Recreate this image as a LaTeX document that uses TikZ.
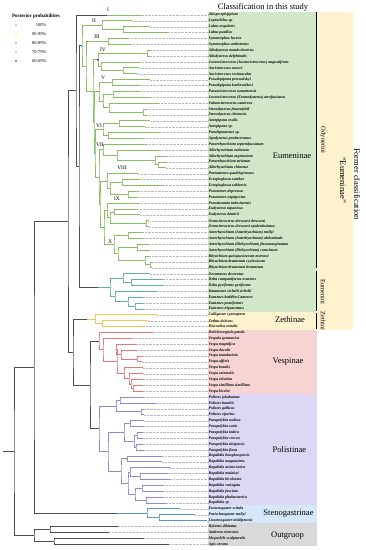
\documentclass[tikz,border=0pt]{standalone}
\usepackage{fontspec}
\setmainfont{Liberation Serif}
\usetikzlibrary{calc}
\definecolor{odyncol}{RGB}{134,190,96}
\definecolor{eumcol}{RGB}{92,176,166}
\definecolor{zethcol}{RGB}{247,200,80}
\definecolor{vespcol}{RGB}{236,118,118}
\definecolor{polcol}{RGB}{150,136,206}
\definecolor{stencol}{RGB}{88,150,212}
\definecolor{stemcol}{RGB}{78,78,78}
\definecolor{odynbg}{RGB}{210,230,200}
\definecolor{formbg}{RGB}{255,242,206}
\definecolor{vespbg}{RGB}{246,212,212}
\definecolor{polbg}{RGB}{221,215,243}
\definecolor{stenbg}{RGB}{214,231,247}
\definecolor{outbg}{RGB}{217,217,217}
\definecolor{ppgray}{RGB}{170,170,170}
\definecolor{ppyellow}{RGB}{255,235,0}
\definecolor{ppgreen}{RGB}{40,220,40}
\definecolor{ppcyan}{RGB}{40,220,220}
\definecolor{ppblue}{RGB}{25,25,205}
\tikzset{
  tree/.style={x=1pt,y=-1pt},
  branch/.style={line width=0.9pt},
  ody/.style={branch,draw=odyncol},
  eum/.style={branch,draw=eumcol},
  zeth/.style={branch,draw=zethcol},
  vesp/.style={branch,draw=vespcol},
  pol/.style={branch,draw=polcol},
  sten/.style={branch,draw=stencol},
  stemline/.style={branch,draw=stemcol},
  taxon/.style={font=\fontsize{3.9}{4}\selectfont\bfseries\itshape,anchor=west,inner sep=0pt},
  leader/.style={draw=gray!55,line width=0.35pt,dash pattern=on 0.7pt off 0.7pt},
  grp/.style={font=\fontsize{8.5}{9}\selectfont},
  tribe/.style={font=\fontsize{6.5}{7}\selectfont,rotate=-90,inner sep=0pt},
  clabel/.style={font=\fontsize{5.5}{6}\selectfont,inner sep=0pt},
  pp/.style={circle,inner sep=0pt,minimum size=1.9pt},
  bar/.style={line width=1.5pt,black},
}
% internal node: name, x, upper child, lower child, style
\newcommand\clade[5]{%
  \path let \p1=(#3), \p2=(#4) in coordinate (#1) at ({#2*1pt},{(\y1+\y2)/2});
  \draw[#5] (#3) -| (#1) |- (#4);
  \fill[gray!60] (#1) circle (0.8pt);
}
\begin{document}
\begin{tikzpicture}[tree]
\useasboundingbox (0,0) rectangle (366,550);
% panels
\fill[odynbg] (208,12) rectangle (316,312);
\fill[formbg] (317,12) rectangle (353,330);
\fill[formbg] (208,312) rectangle (317,330);
\fill[vespbg] (208,330) rectangle (317,394);
\fill[polbg] (208,394) rectangle (317,505);
\fill[stenbg] (208,505) rectangle (317,523);
\fill[outbg] (208,523) rectangle (317,546);
\draw[bar] (316.5,12) -- (316.5,268);
\draw[bar] (316.5,271) -- (316.5,311);
\draw[bar] (316.5,313) -- (316.5,329);

\node[grp] (title) at (263,7) {Classification in this study};
\node[tribe] (odynerini) at (323,140) {Odynerini};
\node[tribe] (eumenini) at (323,292) {Eumenini};
\node[tribe] (zethini) at (323,321) {Zethini};
\node[grp,rotate=-90] (former) at (357,184) {Former classification};
\node[grp,rotate=-90] (formereum) at (343,180) {``Eumeninae''};
\node[grp] (eumeninae) at (292,156) {Eumeninae};
\node[grp] (zethinae) at (290,320) {Zethinae};
\node[grp] (vespinae) at (288,362) {Vespinae};
\node[grp] (polistinae) at (289.5,450) {Polistinae};
\node[grp] (stenogastrinae) at (288.5,514) {Stenogastrinae};
\node[grp] (outgroup) at (287.5,536) {Outgruop};

% legend
\node[font=\fontsize{5}{6}\selectfont\bfseries] (pptitle) at (36,16.5) {Posterior probabilities};
\foreach \k/\c/\t in {0/ppgray/100\%,1/ppyellow/90-99\%,2/ppgreen/80-89\%,3/ppcyan/70-79\%,4/ppblue/60-69\%} {
  \node[pp,fill=\c] (ppdot\k) at (16,{25+\k*9}) {};
  \node[font=\fontsize{4.5}{5}\selectfont,anchor=east] (pptext\k) at (50,{25+\k*9}) {\t};
}

% taxa
\foreach \i/\xe/\name in {
  1/142/{Abispa ephippium},2/132/{Leptochilus sp.},3/150/{Labus angularis},4/168/{Labus pusillus},
  5/128/{Symmorphus lucens},6/130/{Symmorphus ambotretus},7/150/{Allodynerus mandschuricus},
  8/150/{Allodynerus delphinalis},9/139/{Jucancistrocerus (Jucancistrocerus) angustifrons},
  10/139/{Ancistrocerus nosoci},11/137/{Ancistrocerus rosimacular},12/150/{Pseudepipona przewalskyi},
  13/140/{Pseudepipona kozhevnikovi},14/140/{Parancistrocerus sumatrensis},
  15/150/{Jucancistrocerus (Eremodynerus) atrofasciatus},16/158/{Subancistrocerus camicrus},
  17/146/{Stenodynerus frauenfeldi},18/146/{Stenodynerus chinensis},19/150/{Antepipona ovalis},
  20/145/{Antepipona sp.},21/160/{Paraleptomenes sp.},22/143/{Apodynerus prodaveranus},
  23/146/{Pararrhynchium septemfasciatum},24/159/{Allorhynchium radiatum},
  25/166/{Allorhynchium argentatum},26/166/{Pararrhynchium striatum},27/166/{Allorhynchium chinense},
  28/138/{Pareumenes quadrispinosus},29/140/{Ectopioglossa sumbae},30/163/{Ectopioglossa sublaevis},
  31/138/{Pseumenes depressus},32/137/{Pseumenes nigripectus},33/138/{Pseudozumia indosinensis},
  34/137/{Eudynerus nipanicus},35/140/{Eudynerus danticii},36/149/{Orancistrocerus drewseni drewseni},
  37/149/{Orancistrocerus drewseni opulentissimus},38/142/{Anterhynchium (Anterhynchium) mellyi},
  39/143/{Anterhynchium (Anterhynchium) abdominale},40/149/{Anterhynchium (Dirhynchium) flavomarginatum},
  41/149/{Anterhynchium (Dirhynchium) coracinum},42/149/{Rhynchium quinquecinctum mororai},
  43/152/{Rhynchium brunneum ceylonicum},44/152/{Rhynchium brunneum brunneum},
  45/150/{Oreumenes decoratus},46/163/{Delta campaniforme esuriens},47/163/{Delta pyriforme pyriforme},
  48/157/{Katamenes sichelii sichelii},49/143/{Eumenes buddha Cameron},50/143/{Eumenes pomiformis},
  51/143/{Eumenes tripunctatus},52/157/{Calligaster cyanoptera},53/148/{Zethus dolosus},
  54/143/{Discoelius zonalis},55/153/{Dolichovespula panda},56/132/{Vespula germanica},
  57/136/{Vespa magnifica},58/137/{Vespa ducalis},59/142/{Vespa mandarinia},60/142/{Vespa affinis},
  61/143/{Vespa basalis},62/143/{Vespa orientalis},63/143/{Vespa velutina},
  64/143/{Vespa simillima simillima},65/143/{Vespa bicolor},66/144/{Polistes jokahamae},
  67/156/{Polistes humilis},68/144/{Polistes gallicus},69/144/{Polistes riparius},
  70/144/{Parapolybia nodosa},71/144/{Parapolybia varia},72/143/{Parapolybia indica},
  73/143/{Parapolybia crocea},74/143/{Parapolybia tinigensis},75/144/{Parapolybia flava},
  76/162/{Ropalidia hongkongensis},77/162/{Ropalidia magnanima},78/170/{Ropalidia aristocratica},
  79/168/{Ropalidia malaisei},80/170/{Ropalidia bicolorata},81/163/{Ropalidia variegata},
  82/163/{Ropalidia fasciata},83/163/{Ropalidia phalansterica},84/166/{Ropalidia sp},
  85/180/{Eustenogaster scitula},86/195/{Parischnogaster mellyi},87/207/{Liostenogaster nitidipennis},
  88/118/{Hylaeus dilatatus},89/109/{Andrena cineraria},90/144/{Megachile sculpturalis},91/169/{Apis cerana}} {
  \coordinate (t\i) at (\xe,{15+(\i-1)*5.88});
  \node[taxon] (n\i) at (208.5,{15+(\i-1)*5.88}) {\name};
  \draw[leader] (t\i) -- (n\i.west);
}

% Odynerini
\clade{labus}{123}{t3}{t4}{ody}
\clade{cII}{102}{t2}{labus}{ody}
\clade{cIII}{108}{t5}{t6}{ody}
\clade{cIV}{147}{t7}{t8}{ody}
\clade{ancis}{123}{t10}{t11}{ody}
\clade{jucanc}{101}{t9}{ancis}{ody}
\clade{bIV}{98}{cIV}{jucanc}{ody}
\clade{pseud}{112}{t12}{t13}{ody}
\clade{paranc}{113}{t14}{t15}{ody}
\clade{steno}{143}{t17}{t18}{ody}
\clade{subanc}{109}{t16}{steno}{ody}
\clade{vA}{103}{paranc}{subanc}{ody}
\clade{cV}{99}{pseud}{vA}{ody}
\clade{antep}{119}{t19}{t20}{ody}
\clade{paral}{108}{t21}{t22}{ody}
\clade{cVI}{103}{antep}{paral}{ody}
\clade{allB}{158}{t26}{t27}{ody}
\clade{allC}{155}{t25}{allB}{ody}
\clade{allD}{117}{t24}{allC}{ody}
\clade{cVII}{103}{t23}{allD}{ody}
\clade{ecto}{122}{t29}{t30}{ody}
\clade{pseum}{128}{t31}{t32}{ody}
\clade{viiiA}{110}{ecto}{pseum}{ody}
\clade{cVIII}{107}{t28}{viiiA}{ody}
\clade{eudyn}{114}{t34}{t35}{ody}
\clade{oranc}{146}{t36}{t37}{ody}
\clade{ixA}{110}{eudyn}{oranc}{ody}
\clade{cIX}{107}{t33}{ixA}{ody}
\clade{antA}{128}{t38}{t39}{ody}
\clade{antD}{137}{t40}{t41}{ody}
\clade{rbrun}{150}{t43}{t44}{ody}
\clade{rhyn}{145}{t42}{rbrun}{ody}
\clade{xA}{118}{antD}{rhyn}{ody}
\clade{cX}{114}{antA}{xA}{ody}
\clade{nIXX}{104}{cIX}{cX}{ody}
\clade{nVIIIX}{100}{cVIII}{nIXX}{ody}
\clade{nVII}{99}{cVII}{nVIIIX}{ody}
\clade{nVI}{95}{cVI}{nVII}{ody}
\clade{nV}{94}{cV}{nVI}{ody}
\clade{nIV}{93}{bIV}{nV}{ody}
\clade{nIII}{86}{cIII}{nIV}{ody}
\clade{odyn}{82}{cII}{nIII}{ody}
% Eumenini
\clade{delta}{131}{t46}{t47}{eum}
\clade{oreum}{123}{t45}{delta}{eum}
\clade{eumAB}{135}{t50}{t51}{eum}
\clade{eumB}{128}{t49}{eumAB}{eum}
\clade{kata}{115}{t48}{eumB}{eum}
\clade{eumen}{110}{oreum}{kata}{eum}
\clade{eumR}{79}{odyn}{eumen}{stemline}
\clade{eumin}{76}{t1}{eumR}{stemline}
\draw[ody] (t1) -- ++(-35,0);
\draw[eum] (eumen) -- ++(-12,0);
% Zethinae
\clade{zethA}{102}{t53}{t54}{zeth}
\clade{zethin}{95}{t52}{zethA}{zeth}
% Vespinae
\clade{vmand}{137}{t59}{t60}{vesp}
\clade{vduc}{121}{t58}{vmand}{vesp}
\clade{vmag}{116}{t57}{vduc}{vesp}
\clade{vsim}{133}{t64}{t65}{vesp}
\clade{vvel}{131}{t63}{vsim}{vesp}
\clade{vori}{129}{t62}{vvel}{vesp}
\clade{vbas}{124}{t61}{vori}{vesp}
\clade{vespa}{117}{vmag}{vbas}{vesp}
\clade{vespula}{103}{t56}{vespa}{vesp}
\clade{vespin}{99}{t55}{vespula}{vesp}
% Polistinae
\clade{polA}{120}{t66}{t67}{pol}
\clade{polB}{141}{t68}{t69}{pol}
\clade{polistes}{116}{polA}{polB}{pol}
\clade{parA}{130}{t70}{t71}{pol}
\clade{parB}{137}{t72}{t73}{pol}
\clade{parC}{136}{t74}{t75}{pol}
\clade{parBC}{134}{parB}{parC}{pol}
\clade{parapol}{124}{parA}{parBC}{pol}
\clade{ropA}{127}{t76}{t77}{pol}
\clade{ropB}{140}{t79}{t80}{pol}
\clade{ropC}{130}{t78}{ropB}{pol}
\clade{ropD}{142}{t81}{t82}{pol}
\clade{ropE}{146}{t83}{t84}{pol}
\clade{ropF}{135}{ropD}{ropE}{pol}
\clade{ropG}{128}{ropC}{ropF}{pol}
\clade{ropal}{121}{ropA}{ropG}{pol}
\clade{parrop}{108}{parapol}{ropal}{pol}
\clade{polistin}{99}{polistes}{parrop}{pol}
% backbone
\clade{vespol}{90}{vespin}{polistin}{stemline}
\clade{zethvp}{73}{zethin}{vespol}{stemline}
\draw[zeth] (zethin) -- ++(-8,0);
\clade{vespid}{68}{eumin}{zethvp}{stemline}
\clade{stenA}{159}{t86}{t87}{sten}
\clade{stenog}{147}{t85}{stenA}{sten}
\clade{ingroup}{34}{vespid}{stenog}{stemline}
\draw[sten] (stenog) -- ++(-30,0);
\clade{outA}{50}{t88}{t89}{stemline}
\clade{outB}{54}{t90}{t91}{stemline}
\clade{outgrp}{34}{outA}{outB}{stemline}
\clade{root}{14}{ingroup}{outgrp}{stemline}
\draw[stemline] (root) -- ++(-11,0);

% support values below 100%
\foreach \nd/\c in {odyn/ppcyan,bIV/ppblue,nVI/ppcyan,nIXX/ppgreen,xA/ppyellow,ropA/ppgreen} {
  \node[pp,fill=\c] at (\nd) {};
}

% clade numbers
\foreach \r/\px/\py in {I/108/10,II/94/21,III/97/37,IV/103/50,V/103/78,VI/99/126,VII/100/145,VIII/122/168,IX/117/199,X/110/242} {
  \node[clabel] (lab\r) at (\px,\py) {\r};
}
\end{tikzpicture}
\end{document}
